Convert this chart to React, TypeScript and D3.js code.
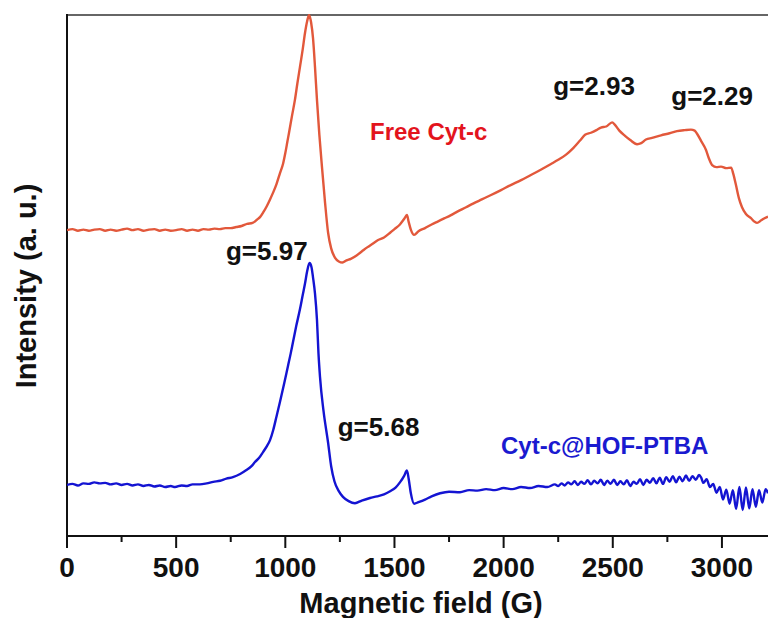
import React from "react";
import * as d3 from "d3";

// EPR spectra: magnetic field (G) vs. intensity (arbitrary units)
const freeCytC: [number, number][] = [
  [0, 58.7], [25, 58.9], [50, 58.6], [75, 58.8], [100, 58.6], [125, 58.8], [150, 58.9], [175, 58.6],
  [200, 58.8], [225, 58.6], [250, 58.8], [275, 59.0], [300, 58.7], [325, 58.9], [350, 58.6], [375, 58.8],
  [400, 58.9], [425, 58.6], [450, 58.8], [475, 58.6], [500, 58.7], [525, 58.9], [550, 58.6], [575, 58.8],
  [600, 58.6], [625, 58.9], [650, 58.8], [675, 59.0], [700, 58.9], [725, 59.1], [750, 59.1], [775, 59.3],
  [800, 59.5], [825, 59.9], [850, 60.1], [870, 60.7], [884, 61.2], [900, 62.2], [915, 63.3], [930, 64.6],
  [945, 66.0], [960, 67.6], [976, 69.7], [990, 71.5], [1000, 73.5], [1010, 75.8], [1017, 77.4], [1030, 80.5],
  [1044, 83.7], [1055, 86.8], [1067, 90.0], [1080, 93.5], [1090, 96.5], [1100, 98.8], [1109, 100.0],
  [1118, 98.6], [1127, 95.5], [1136, 90.0], [1145, 83.7], [1156, 77.0], [1168, 70.8], [1182, 64.0],
  [1196, 58.2], [1210, 55.2], [1228, 53.4], [1245, 52.7], [1262, 52.5], [1280, 52.9], [1300, 53.2],
  [1328, 53.9], [1350, 54.6], [1375, 55.4], [1400, 56.1], [1425, 56.8], [1452, 57.3], [1480, 58.2],
  [1500, 58.9], [1525, 59.8], [1545, 60.9], [1557, 61.6], [1565, 60.3], [1575, 58.8], [1590, 57.8],
  [1610, 58.5], [1640, 59.1], [1670, 59.8], [1700, 60.4], [1730, 61.0], [1759, 61.6], [1790, 62.3],
  [1828, 63.1], [1860, 63.8], [1900, 64.6], [1940, 65.4], [1988, 66.4], [2030, 67.3], [2080, 68.3],
  [2125, 69.3], [2170, 70.3], [2217, 71.4], [2250, 72.2], [2286, 73.2], [2320, 74.5], [2350, 75.9],
  [2373, 77.0], [2400, 77.4], [2425, 77.9], [2446, 78.4], [2470, 78.6], [2497, 79.4], [2510, 78.9],
  [2530, 77.8], [2556, 76.8], [2580, 76.0], [2611, 75.2], [2630, 75.4], [2652, 76.1], [2680, 76.4],
  [2721, 76.9], [2760, 77.3], [2794, 77.7], [2830, 77.9], [2858, 78.0], [2875, 77.8], [2886, 77.2],
  [2905, 75.8], [2927, 74.1], [2940, 72.5], [2955, 71.2], [2975, 70.8], [2996, 70.9], [3020, 70.6],
  [3042, 70.7], [3052, 69.5], [3064, 67.4], [3078, 64.8], [3092, 63.1], [3110, 61.8], [3133, 61.0],
  [3150, 60.3], [3161, 60.1], [3180, 60.6], [3195, 61.0], [3211, 61.3],
];

const cytCHofPtba: [number, number][] = [
  [0, 9.8], [25, 10.0], [50, 9.7], [75, 10.1], [100, 10.0], [125, 10.3], [150, 10.1], [175, 10.2],
  [200, 9.9], [225, 10.1], [250, 9.8], [275, 10.0], [300, 9.7], [325, 9.9], [350, 9.6], [375, 9.8],
  [400, 9.5], [425, 9.7], [450, 9.4], [475, 9.6], [495, 9.4], [525, 9.7], [550, 9.6], [575, 9.9],
  [609, 9.9], [640, 10.1], [670, 10.4], [701, 10.6], [730, 11.0], [760, 11.3], [793, 11.9], [820, 12.6],
  [845, 13.4], [861, 14.2], [880, 15.0], [898, 16.1], [915, 17.2], [930, 18.4], [945, 20.4], [960, 23.0],
  [976, 25.8], [995, 29.3], [1012, 32.6], [1025, 35.1], [1035, 37.2], [1050, 40.3], [1067, 43.5],
  [1080, 46.3], [1090, 48.4], [1100, 50.8], [1111, 52.4], [1120, 51.6], [1127, 49.6], [1136, 46.5],
  [1145, 41.5], [1152, 35.0], [1159, 30.5], [1175, 24.0], [1196, 17.9], [1210, 13.4], [1225, 10.5],
  [1245, 8.6], [1264, 7.5], [1290, 6.7], [1319, 6.3], [1350, 6.8], [1388, 7.3], [1420, 7.6], [1452, 8.0],
  [1480, 8.6], [1505, 9.3], [1525, 10.3], [1545, 11.6], [1557, 12.6], [1565, 11.0], [1575, 8.2],
  [1590, 6.2], [1610, 6.5], [1640, 7.0], [1670, 7.6], [1709, 8.2], [1750, 8.5], [1800, 8.4], [1842, 8.8],
  [1880, 8.7], [1920, 9.0], [1960, 8.8], [2000, 9.2], [2040, 9.0], [2080, 9.4], [2121, 9.2], [2160, 9.6],
  [2200, 9.4], [2235, 9.9], [2250, 9.6], [2265, 10.1], [2280, 9.7], [2295, 10.3], [2310, 9.9],
  [2325, 10.5], [2340, 9.8], [2355, 10.4], [2370, 10.0], [2385, 10.7], [2400, 9.9], [2415, 10.6],
  [2430, 10.1], [2445, 10.8], [2460, 9.8], [2475, 10.6], [2490, 10.0], [2505, 10.8], [2520, 9.8],
  [2535, 10.5], [2550, 9.9], [2565, 10.7], [2580, 9.6], [2595, 10.4], [2610, 10.0], [2625, 10.9],
  [2640, 9.8], [2655, 10.8], [2670, 10.2], [2685, 11.1], [2700, 10.1], [2715, 11.2], [2730, 10.0],
  [2745, 11.3], [2760, 10.4], [2775, 11.5], [2790, 10.3], [2805, 11.4], [2820, 10.5], [2835, 11.6],
  [2850, 10.6], [2865, 11.5], [2880, 10.8], [2895, 11.7], [2905, 11.2], [2915, 10.2], [2930, 10.9],
  [2945, 9.4], [2960, 10.0], [2975, 8.3], [2990, 9.4], [3005, 7.0], [3020, 8.9], [3035, 6.2],
  [3050, 8.8], [3065, 5.2], [3080, 9.4], [3095, 5.0], [3110, 9.3], [3125, 5.3], [3140, 9.0],
  [3155, 5.6], [3170, 8.8], [3185, 6.4], [3200, 9.0], [3211, 8.2],
];

const majorTicks = [0, 500, 1000, 1500, 2000, 2500, 3000];
const minorTicks = [250, 750, 1250, 1750, 2250, 2750];

// Peak annotations: [label, field (G), intensity]
const annotations: [string, number, number][] = [
  ["g=5.97", 728, 52.9],
  ["g=5.68", 1240, 19.2],
  ["g=2.93", 2227, 84.6],
  ["g=2.29", 2768, 82.7],
];

const seriesLabels: [string, number, number, string][] = [
  ["Free Cyt-c", 1388, 76.0, "#e3141d"],
  ["Cyt-c@HOF-PTBA", 1988, 15.7, "#1a1ad0"],
];

const W = 768;
const H = 618;
const FONT = "'Liberation Sans', Arial, Helvetica, sans-serif";

export default function App() {
  const x = d3.scaleLinear().domain([0, 3211]).range([67, 768]);
  const y = d3.scaleLinear().domain([0, 100]).range([536, 15]);
  const line = d3
    .line<[number, number]>()
    .x((d) => x(d[0]))
    .y((d) => y(d[1]))
    .curve(d3.curveMonotoneX);

  const y0 = y(0);

  return (
    <div style={{ position: "absolute", left: 0, top: 0 }}>
      <svg width={W} height={H} style={{ display: "block", background: "#fff" }}>
        <defs>
          <clipPath id="plot">
            <rect x={67} y={14} width={W - 67} height={530} />
          </clipPath>
        </defs>

        {/* frame */}
        <line x1={67} x2={W} y1={15} y2={15} stroke="#333" strokeWidth={1.6} />
        <line x1={67} x2={67} y1={14} y2={y0 + 12} stroke="#111" strokeWidth={2} />
        <line x1={66} x2={W} y1={y0} y2={y0} stroke="#111" strokeWidth={2} />

        {/* x ticks */}
        {majorTicks.map((t) => (
          <g key={t}>
            <line x1={x(t)} x2={x(t)} y1={y0} y2={y0 + 12} stroke="#111" strokeWidth={2} />
            <text
              x={x(t)}
              y={577}
              textAnchor="middle"
              fontFamily={FONT}
              fontWeight="bold"
              fontSize={28}
              fill="#111"
            >
              {t}
            </text>
          </g>
        ))}
        {minorTicks.map((t) => (
          <line key={t} x1={x(t)} x2={x(t)} y1={y0} y2={y0 + 6} stroke="#111" strokeWidth={2} />
        ))}

        {/* spectra */}
        <g clipPath="url(#plot)">
          <path d={line(freeCytC) ?? ""} fill="none" stroke="#e2583b" strokeWidth={2.4} strokeLinejoin="round" />
          <path d={line(cytCHofPtba) ?? ""} fill="none" stroke="#1414d2" strokeWidth={2.4} strokeLinejoin="round" />
        </g>

        {/* labels */}
        {annotations.map(([txt, f, v]) => (
          <text key={txt} x={x(f)} y={y(v)} fontFamily={FONT} fontWeight="bold" fontSize={26} fill="#111">
            {txt}
          </text>
        ))}
        {seriesLabels.map(([txt, f, v, c]) => (
          <text key={txt} x={x(f)} y={y(v)} fontFamily={FONT} fontWeight="bold" fontSize={24} fill={c}>
            {txt}
          </text>
        ))}

        {/* axis titles */}
        <text
          x={421}
          y={613}
          textAnchor="middle"
          fontFamily={FONT}
          fontWeight="bold"
          fontSize={29}
          fill="#111"
        >
          Magnetic field (G)
        </text>
        <text
          transform="translate(36,286) rotate(-90)"
          textAnchor="middle"
          fontFamily={FONT}
          fontWeight="bold"
          fontSize={29}
          fill="#111"
        >
          Intensity (a. u.)
        </text>
      </svg>
    </div>
  );
}
